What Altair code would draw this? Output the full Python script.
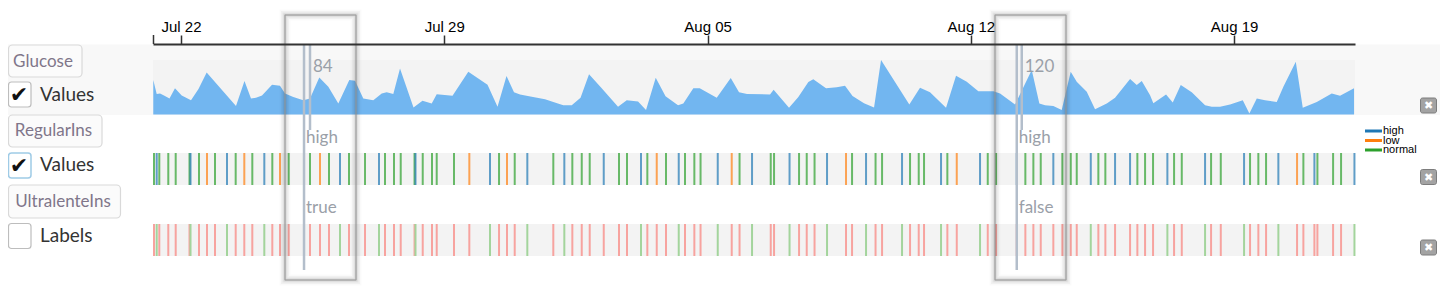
import altair as alt
import pandas as pd

# ---------------- data ----------------
BASE = "2018-07-22"  # day 0 of the offsets below
DOMAIN_START_DAY = -0.744
DOMAIN_END_DAY = 31.215

tick_dates = ["2018-07-22", "2018-07-29", "2018-08-05", "2018-08-12", "2018-08-19"]

glucose_days = [
    -0.737, -0.646, -0.558, -0.452, -0.306, -0.160, 0.019, 0.266, 0.465, 0.683,
    1.462, 1.688, 1.861, 1.994, 2.154, 2.420, 2.632, 2.765, 2.986, 3.252,
    3.430, 3.677, 3.917, 4.183, 4.475, 4.627, 4.847, 5.113, 5.337, 5.469,
    5.645, 5.823, 6.182, 6.421, 6.666, 6.799, 7.219, 7.639, 8.150, 8.416,
    8.655, 8.854, 9.014, 9.360, 9.679, 9.899, 10.165, 10.389, 10.623, 10.849,
    11.162, 11.620, 11.851, 12.152, 12.364, 12.622, 12.883, 13.215, 13.356, 13.622,
    13.792, 14.244, 14.617, 14.837, 15.050, 15.661, 15.757, 16.166, 16.414, 16.680,
    16.812, 17.150, 17.435, 17.655, 17.855, 18.160, 18.427, 18.613, 19.365, 19.649,
    19.915, 20.341, 20.607, 20.892, 21.200, 21.599, 21.777, 22.176, 22.620, 22.822,
    22.973, 23.194, 23.417, 23.656, 23.816, 24.082, 24.303, 24.614, 24.835, 25.234,
    25.412, 25.545, 25.766, 25.853, 26.191, 26.369, 26.582, 26.874, 27.228, 27.406,
    27.627, 27.893, 28.231, 28.406, 28.603, 28.823, 29.134, 29.310, 29.640, 29.826,
    30.198, 30.596, 30.817, 31.189,
]
glucose_values = [
    180, 107, 110, 99, 84, 137, 99, 75, 133, 219,
    44, 175, 84, 88, 99, 156, 150, 110, 92, 75,
    84, 194, 145, 58, 180, 177, 84, 75, 110, 116,
    107, 240, 37, 72, 58, 106, 98, 224, 156, 41,
    201, 117, 105, 91, 80, 66, 49, 49, 87, 211,
    143, 40, 75, 68, 24, 192, 95, 49, 58, 137,
    137, 88, 191, 116, 107, 105, 130, 35, 92, 170,
    184, 137, 142, 150, 97, 59, 36, 285, 52, 140,
    116, 35, 203, 171, 122, 122, 110, 52, 233, 58,
    49, 45, 23, 224, 171, 119, 28, 58, 87, 185,
    154, 175, 101, 59, 105, 63, 154, 116, 49, 40,
    40, 52, 75, 5, 84, 75, 66, 145, 276, 35,
    66, 110, 98, 137,
]

event_days = [
    -0.718, -0.646, -0.577, -0.338, -0.141, 0.226, 0.253, 0.479, 0.691, 0.904,
    1.223, 1.454, 1.683, 1.896, 2.215, 2.428, 2.632, 2.864, 3.271, 3.430,
    3.696, 3.935, 4.228, 4.467, 4.893, 5.265, 5.424, 5.664, 5.842, 6.209,
    6.235, 6.427, 6.674, 6.799, 7.259, 7.666, 8.216, 8.456, 8.668, 8.873,
    9.208, 9.899, 10.192, 10.405, 10.655, 10.867, 11.240, 11.646, 11.859, 12.231,
    12.399, 12.649, 12.896, 13.234, 13.401, 13.649, 13.814, 14.271, 14.643, 14.851,
    15.183, 15.680, 15.768, 16.180, 16.433, 16.637, 16.845, 17.177, 17.682, 17.842,
    18.214, 18.467, 18.640, 19.171, 19.384, 19.615, 19.756, 20.208, 20.376, 20.626,
    21.245, 21.450, 21.671, 22.221, 22.450, 22.663, 22.859, 23.194, 23.434, 23.657,
    23.816, 24.189, 24.391, 24.577, 24.835, 25.234, 25.428, 25.633, 25.845, 26.226,
    26.404, 26.609, 27.228, 27.388, 27.646, 28.265, 28.424, 28.645, 28.850, 29.177,
    29.674, 29.842, 30.135, 30.215, 30.632, 30.844, 31.200,
]
regular_levels = [
    "normal", "high", "normal", "normal", "normal", "normal", "high", "normal", "low", "normal",
    "high", "normal", "low", "normal", "high", "normal", "low", "normal", "high", "normal",
    "low", "normal", "high", "normal", "normal", "high", "normal", "normal", "normal", "normal",
    "high", "normal", "normal", "normal", "normal", "low", "high", "normal", "low", "normal",
    "high", "normal", "high", "normal", "normal", "normal", "high", "normal", "normal", "high",
    "normal", "low", "normal", "high", "normal", "normal", "normal", "high", "low", "normal",
    "high", "normal", "normal", "high", "normal", "normal", "normal", "high", "low", "normal",
    "high", "normal", "normal", "high", "normal", "normal", "normal", "high", "normal", "low",
    "high", "normal", "normal", "high", "normal", "normal", "normal", "high", "normal", "normal",
    "normal", "high", "normal", "normal", "high", "high", "normal", "normal", "normal", "high",
    "normal", "normal", "high", "normal", "normal", "high", "normal", "normal", "normal", "high",
    "low", "normal", "high", "normal", "normal", "normal", "high",
]
ultralente_flags = [
    "false", "true", "false", "false", "false", "false", "true", "false", "false", "false",
    "true", "false", "false", "false", "true", "false", "false", "false", "true", "false",
    "false", "false", "true", "false", "false", "true", "false", "false", "false", "false",
    "true", "false", "false", "false", "false", "false", "true", "false", "false", "false",
    "true", "false", "true", "false", "false", "false", "false", "false", "false", "true",
    "false", "false", "false", "true", "false", "false", "false", "true", "false", "false",
    "true", "false", "false", "true", "false", "false", "false", "true", "false", "false",
    "true", "false", "false", "true", "false", "false", "false", "true", "false", "false",
    "true", "false", "false", "false", "false", "false", "false", "false", "false", "false",
    "false", "true", "false", "false", "false", "false", "false", "false", "false", "true",
    "false", "false", "true", "false", "false", "true", "false", "false", "false", "true",
    "false", "false", "false", "false", "false", "false", "true",
]

regular_domain = ["high", "low", "normal"]
regular_colors = ["#1f77b4", "#ff7f0e", "#2ca02c"]
ultra_domain = ["true", "false"]
ultra_colors = ["#a3d49c", "#f7a39f"]

hover_event_days = [3.271, 22.221]
hover_glucose_days = [3.430, 22.354]
hover_glucose_text = ["84", "120"]
hover_regular_text = ["high", "high"]
hover_ultra_text = ["true", "false"]

# ---------------- frames ----------------
base = pd.Timestamp(BASE)


def to_time(days):
    return (base + pd.to_timedelta(pd.Series(days, dtype=float), unit="D")).dt.round("s")


glucose = pd.DataFrame({"t": to_time(glucose_days), "glucose": glucose_values})
events = pd.DataFrame({"t": to_time(event_days), "regular": regular_levels, "ultra": ultralente_flags})
hover = pd.DataFrame({
    "te": to_time(hover_event_days), "tg": to_time(hover_glucose_days),
    "g": hover_glucose_text, "r": hover_regular_text, "u": hover_ultra_text,
})
legend_df = pd.DataFrame({"level": regular_domain})
one = pd.DataFrame({"k": [0]})

d0 = base + pd.Timedelta(days=DOMAIN_START_DAY)
d1 = base + pd.Timedelta(days=DOMAIN_END_DAY)


def dt(ts):
    return alt.DateTime(year=ts.year, month=ts.month, date=ts.day, hours=ts.hour, minutes=ts.minute)


xscale = alt.Scale(domain=[dt(d0), dt(d1)], range=[145, 1347])
xaxis = alt.Axis(
    orient="top", offset=-36, format="%b %d", values=[dt(pd.Timestamp(s)) for s in tick_dates],
    labelFont="Liberation Sans", labelFontSize=15, labelColor="#000", labelPadding=1,
    tickSize=9, tickWidth=1.5, tickColor="#333", domainColor="#333", domainWidth=2,
    grid=False, title=None, zindex=2, labelFlush=False,
)


def X(field):
    return alt.X(f"{field}:T", scale=xscale, axis=xaxis)


def box(x1, y1, x2, y2, **kw):
    return alt.Chart(one).mark_rect(**kw).encode(
        x=alt.value(x1), x2=alt.value(x2), y=alt.value(y1), y2=alt.value(y2))


def label(txt, x, y, **kw):
    return alt.Chart(one).mark_text(text=txt, **kw).encode(x=alt.value(x), y=alt.value(y))


UI = "Lato"
layers = []

# backgrounds
layers.append(box(0, 36.5, 1432, 107, fill="#f8f8f8"))
layers.append(box(145, 52, 1347, 106.5, fill="#f3f3f3"))
layers.append(box(145, 145, 1347, 177, fill="#f3f3f3"))
layers.append(box(145, 216, 1347, 248, fill="#f3f3f3"))

# glucose area
layers.append(alt.Chart(glucose).mark_area(color="#72b6f0", interpolate="linear").encode(
    x=X("t"),
    y=alt.Y("glucose:Q", scale=alt.Scale(domain=[0, 285], range=[106.5, 52]), axis=None),
))

# insulin ticks
layers.append(alt.Chart(events).mark_rule(strokeWidth=2, opacity=0.7).encode(
    x=X("t"), y=alt.value(145), y2=alt.value(177),
    color=alt.Color("regular:N", scale=alt.Scale(domain=regular_domain, range=regular_colors), legend=None),
))
layers.append(alt.Chart(events).mark_rule(strokeWidth=2).encode(
    x=X("t"), y=alt.value(216), y2=alt.value(248),
    color=alt.Color("ultra:N", scale=alt.Scale(domain=ultra_domain, range=ultra_colors), legend=None),
))

# outer tick at the left end of the axis
layers.append(alt.Chart(one).mark_rule(color="#333", strokeWidth=1.5).encode(
    x=alt.value(145.5), y=alt.value(27), y2=alt.value(36)))

# left-hand controls
btn = dict(fill="#fbfbfb", stroke="#d9d9d9", strokeWidth=1.2, cornerRadius=4)
btxt = dict(font=UI, fontSize=17, color="#80768a", align="center", baseline="middle")
layers.append(box(0.5, 37, 74, 69, **btn))
layers.append(label("Glucose", 35, 54, **btxt))
layers.append(box(0.5, 107, 94, 139, **btn))
layers.append(label("RegularIns", 45.5, 123, **btxt))
layers.append(box(0.5, 177, 112.5, 210, **btn))
layers.append(label("UltralenteIns", 55, 194, **btxt))

chk = dict(fill="#ffffff", stroke="#bdbdbd", strokeWidth=1.2, cornerRadius=3)
vtxt = dict(font=UI, fontSize=19, color="#333", align="left", baseline="middle")
mark_kw = dict(font="DejaVu Sans", fontSize=22, color="#111", align="center", baseline="middle")
layers.append(box(0.5, 74, 23, 99, **chk))
layers.append(label("\u2714", 11, 87, **mark_kw))
layers.append(label("Values", 32, 87, **vtxt))
layers.append(box(0.5, 145, 23, 170, fill="#ffffff", stroke="#9fcbe6", strokeWidth=1.5, cornerRadius=3))
layers.append(label("\u2714", 11, 158, **mark_kw))
layers.append(label("Values", 32, 157, **vtxt))
layers.append(box(0.5, 215.5, 23, 240.5, **chk))
layers.append(label("Labels", 32, 228, **vtxt))

# legend for RegularIns
leg_y = alt.Y("level:N", scale=alt.Scale(type="point", domain=regular_domain, range=[123, 142], padding=0), axis=None)
layers.append(alt.Chart(legend_df).mark_rule(strokeWidth=3).encode(
    x=alt.value(1357), x2=alt.value(1374), y=leg_y,
    color=alt.Color("level:N", scale=alt.Scale(domain=regular_domain, range=regular_colors), legend=None),
))
layers.append(alt.Chart(legend_df).mark_text(align="left", baseline="middle", font="Liberation Sans",
                                             fontSize=11, color="#000").encode(
    x=alt.value(1375), y=leg_y, text="level:N"))

# close icons
for cy in (97.5, 169, 239.5):
    layers.append(box(1412.5, cy - 7.5, 1428.5, cy + 7.5, fill="#a3a3a3", stroke="#7d7d7d", strokeWidth=1, cornerRadius=2))
    layers.append(label("\u2716", 1420.5, cy + 0.5, font="DejaVu Sans", fontSize=11, color="#ffffff",
                        align="center", baseline="middle"))

# hover tooltips
for (x1, x2) in ((277, 348), (987, 1058)):
    for w, op in ((11, 0.02), (8, 0.035), (5, 0.05), (2.5, 0.09)):
        layers.append(box(x1, 7, x2, 272, fill="transparent", stroke="#000", strokeWidth=w, strokeOpacity=op))
    layers.append(box(x1, 7, x2, 272, fill="transparent", stroke="#9a9a9a", strokeWidth=1))

line_kw = dict(color="#b3becb", strokeWidth=2.5)
layers.append(alt.Chart(hover).mark_rule(**line_kw).encode(x=X("te"), y=alt.value(37), y2=alt.value(262)))
layers.append(alt.Chart(hover).mark_rule(**line_kw).encode(x=X("tg"), y=alt.value(37), y2=alt.value(122)))
htxt = dict(font=UI, fontSize=17, color="#9aa0a8", align="left", baseline="middle")
layers.append(alt.Chart(hover).mark_text(dx=3, **htxt).encode(x=X("tg"), y=alt.value(59), text="g:N"))
layers.append(alt.Chart(hover).mark_text(dx=2, **htxt).encode(x=X("te"), y=alt.value(130), text="r:N"))
layers.append(alt.Chart(hover).mark_text(dx=2, **htxt).encode(x=X("te"), y=alt.value(200), text="u:N"))

chart = alt.layer(*layers).resolve_scale(y="independent", color="independent").properties(
    width=1432, height=280, padding=0, autosize=alt.AutoSizeParams(type="none"),
).configure_view(strokeWidth=0)

chart.save("out.html", embed_options={"renderer": "svg", "actions": False})
